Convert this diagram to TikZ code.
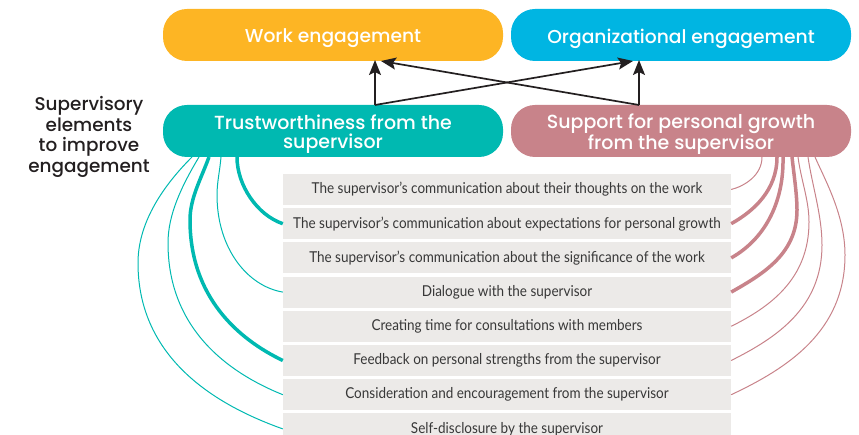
\documentclass[tikz,border=0pt]{standalone}
\usepackage{fontspec}
\usetikzlibrary{arrows.meta}
\newfontfamily\headfont{Poppins Medium}
\newfontfamily\itemfont[FakeStretch=0.9]{Lato}
\definecolor{workc}{HTML}{FDB524}
\definecolor{orgc}{HTML}{00B5E2}
\definecolor{trustc}{HTML}{00B9B1}
\definecolor{suppc}{HTML}{C8838A}
\definecolor{rowc}{HTML}{ECEAE8}
\definecolor{inkc}{HTML}{231F20}
\definecolor{itemtext}{HTML}{383838}
\tikzset{
  bigbox/.style={rounded corners=24pt, minimum width=340pt, minimum height=52pt,
    inner sep=0pt},
  headtext/.style={inner sep=0pt, text=white, align=center,
    font=\headfont\fontsize{18.7}{19}\selectfont},
  twotext/.style={inner sep=0pt, text=white, align=center,
    font=\headfont\fontsize{19}{19}\selectfont},
  rowbox/.style={fill=rowc, minimum width=448pt, minimum height=31pt, inner sep=0pt,
    text=itemtext, font=\itemfont\fontsize{15}{16}\selectfont},
  arr/.style={draw=inkc, line width=1.7pt, -{Stealth[length=15pt,width=12pt,inset=3pt]}},
  tthick/.style={draw=trustc, line width=3.5pt},
  tthin/.style={draw=trustc, line width=1pt},
  pthick/.style={draw=suppc, line width=3.5pt},
  pthin/.style={draw=suppc, line width=1pt},
}
\begin{document}
\begin{tikzpicture}[x=1pt,y=-1pt]
\useasboundingbox (0,0) rectangle (859,435);
% rows
\foreach \i/\t in {1/{The supervisor’s communication about their thoughts on the work},
  2/{The supervisor’s communication about expectations for personal growth},
  3/{The supervisor’s communication about the significance of the work},
  4/{Dialogue with the supervisor},
  5/{Creating time for consultations with members},
  6/{Feedback on personal strengths from the supervisor},
  7/{Consideration and encouragement from the supervisor},
  8/{Self-disclosure by the supervisor}}
  \node[rowbox] (r\i) at (507,{189.5+34.2*(\i-1)}) {\raisebox{-1pt}{\t}};
% start coordinates on the box bottoms
\coordinate (t2) at (237,157);
\coordinate (t4) at (221,157);
\coordinate (t6) at (209,157);
\coordinate (t7) at (199,157);
\coordinate (t8) at (192,157);
\coordinate (p1) at (762,157);
\coordinate (p2) at (777,157);
\coordinate (p3) at (783,157);
\coordinate (p4) at (792,157);
\coordinate (p5) at (798,157);
\coordinate (p6) at (808,157);
\coordinate (p7) at (815,157);
% teal curves
\draw[tthick] (t2) .. controls (237,185) and (257,215) .. (r2.west);
\draw[tthin] (t4) .. controls (220,170) and (217,182) .. (217,195)
  .. controls (217,248) and (247,286) .. (r4.west);
\draw[tthick] (t6) .. controls (201,179) and (190,198) .. (190,220)
  .. controls (190,297) and (238,339) .. (r6.west);
\draw[tthin] (t7) .. controls (181,187) and (168,215) .. (168,243)
  .. controls (168,326) and (224,371) .. (r7.west);
\draw[tthin] (t8) .. controls (160,189) and (138,225) .. (138,263)
  .. controls (138,353) and (207,402) .. (r8.west);
% pink curves
\draw[pthin] (p1) .. controls (762,175) and (745,186) .. (r1.east);
\draw[pthick] (p2) .. controls (777,190) and (754,211) .. (r2.east);
\draw[pthick] (p3) .. controls (784,205) and (763,240) .. (r3.east);
\draw[pthick] (p4) .. controls (794,175) and (797,195) .. (797,210)
  .. controls (797,253) and (765,273) .. (r4.east);
\draw[pthin] (p5) .. controls (801,180) and (809,200) .. (809,222)
  .. controls (809,279) and (770,307) .. (r5.east);
\draw[pthin] (p6) .. controls (812,185) and (822,215) .. (822,245)
  .. controls (822,308) and (776,338) .. (r6.east);
\draw[pthin] (p7) .. controls (825,180) and (845,215) .. (845,255)
  .. controls (845,331) and (788,368) .. (r7.east);
% big boxes
\node[bigbox, fill=workc] (work) at (333,35) {};
\node[bigbox, fill=orgc] (org) at (681,35) {};
\node[bigbox, fill=trustc] (trust) at (333,131) {};
\node[bigbox, fill=suppc] (supp) at (681,131) {};
\node[headtext] (workt) at ([yshift=-3.5pt]work.center) {Work engagement};
\node[headtext] (orgt) at ([yshift=-3.5pt]org.center) {Organizational engagement};
\node[twotext] (trustt) at ([yshift=-3.5pt]trust.center) {Trustworthiness from the\\supervisor};
\node[twotext] (suppt) at ([yshift=-3.5pt]supp.center) {Support for personal growth\\from the supervisor};
% label
\node[align=center, text=inkc, inner sep=0pt, font=\headfont\fontsize{18.4}{20.5}\selectfont] (lab) at (89,137)
  {Supervisory\\elements\\to improve\\engagement};
% arrows
\coordinate (ta) at (375,105);
\coordinate (sa) at (639,105);
\coordinate (wa) at (375,60);
\coordinate (wd) at (381,61);
\coordinate (oa) at (639,60);
\coordinate (od) at (633,61);
\draw[arr] (ta) -- (wa);
\draw[arr] (ta) -- (od);
\draw[arr] (sa) -- (oa);
\draw[arr] (sa) -- (wd);
\end{tikzpicture}
\end{document}
